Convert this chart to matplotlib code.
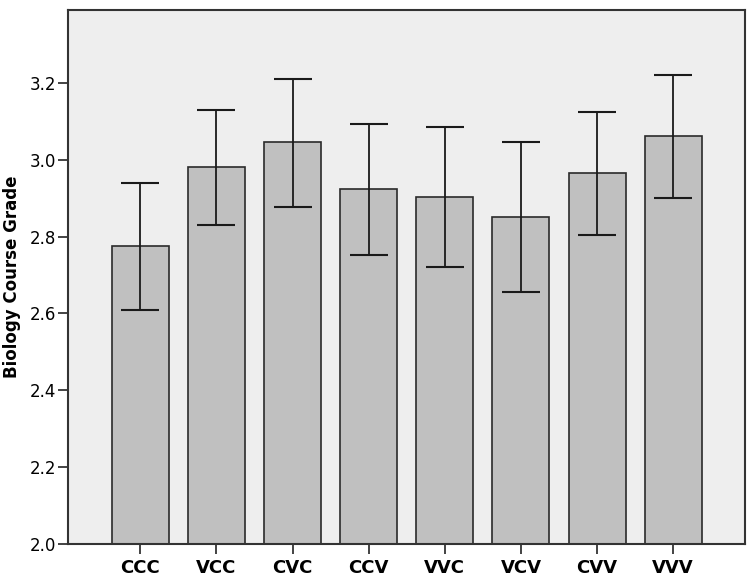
import matplotlib
matplotlib.use('Agg')
import matplotlib.pyplot as plt

groups = ['CCC', 'VCC', 'CVC', 'CCV', 'VVC', 'VCV', 'CVV', 'VVV']
means = [2.775, 2.980, 3.045, 2.924, 2.903, 2.852, 2.965, 3.062]
ci_low = [2.610, 2.830, 2.876, 2.752, 2.720, 2.656, 2.804, 2.900]
ci_high = [2.940, 3.130, 3.211, 3.093, 3.084, 3.047, 3.124, 3.220]

fig = plt.figure(figsize=(7.5, 5.81), dpi=100)
ax = fig.add_axes([0.0907, 0.0637, 0.9023, 0.9193])
ax.set_facecolor('#eeeeee')

x = range(len(groups))
yerr = [[m - lo for m, lo in zip(means, ci_low)],
        [hi - m for m, hi in zip(means, ci_high)]]
ax.bar(x, [m - 2.0 for m in means], bottom=2.0, width=0.75,
       color='#c0c0c0', edgecolor='#2a2a2a', linewidth=1.2, zorder=2)
ax.errorbar(x, means, yerr=yerr, fmt='none', ecolor='#1a1a1a',
            elinewidth=1.3, capsize=14, capthick=1.5, zorder=3)

ax.set_xlim(-0.95, 7.94)
ax.set_ylim(2.0, 3.39)
ax.set_xticks(list(x))
ax.set_xticklabels(groups, fontsize=13, fontweight='bold')
ax.set_yticks([2.0, 2.2, 2.4, 2.6, 2.8, 3.0, 3.2])
ax.set_yticklabels(['2.0', '2.2', '2.4', '2.6', '2.8', '3.0', '3.2'], fontsize=12)
ax.set_ylabel('Biology Course Grade', fontsize=12, fontweight='bold', labelpad=6)
ax.tick_params(axis='y', direction='out', length=7.5, width=1.2, color='#222222', pad=1)
ax.tick_params(axis='x', direction='out', length=7.5, width=1.2, color='#222222', pad=3)
for s in ax.spines.values():
    s.set_color('#333333')
    s.set_linewidth(1.5)

plt.savefig('out.png', dpi=100)
